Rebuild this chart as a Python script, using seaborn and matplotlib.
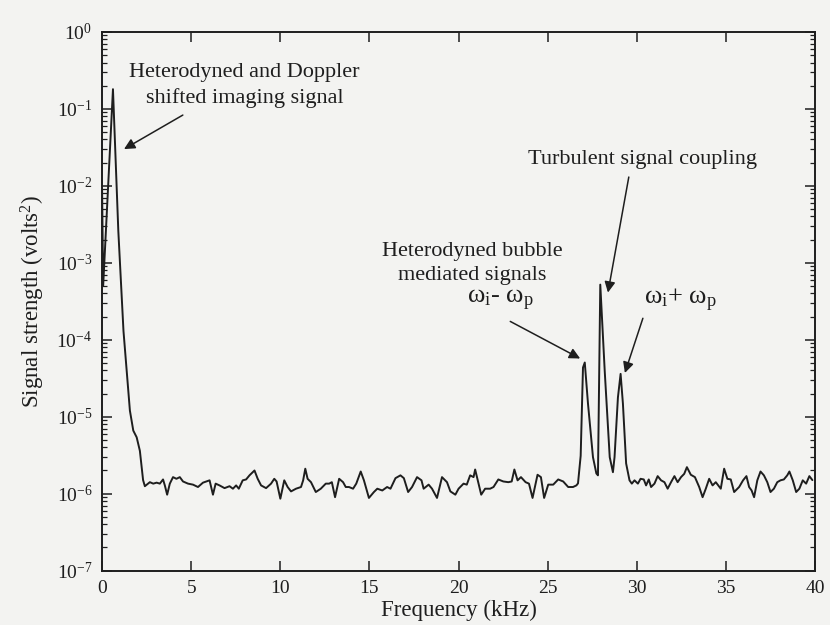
import matplotlib
matplotlib.use('Agg')
import matplotlib.pyplot as plt
import matplotlib.ticker as mticker
import seaborn as sns

# spectrum (kHz, volts^2)
peak_freq = [0.0, 0.06, 0.61, 0.91, 1.20, 1.47, 1.56, 1.75, 1.94, 2.12, 2.30]
peak_sig = [9.0e-3, 5.0e-4, 0.18, 2.6e-3, 1.3e-4, 2.2e-5, 1.2e-5, 6.6e-6, 5.4e-6, 3.6e-6, 1.5e-6]

floor_a_freq = [2.40, 2.68, 2.87, 3.06, 3.24, 3.42, 3.52, 3.65, 3.80, 3.98, 4.17, 4.36, 4.54, 4.82,
                5.10, 5.38, 5.66, 6.03, 6.22, 6.37, 6.59, 6.87, 7.15, 7.34, 7.52, 7.67, 7.89, 8.08,
                8.27, 8.55, 8.73, 8.92, 9.20, 9.48, 9.66, 9.79, 10.00, 10.22, 10.41, 10.60, 10.88,
                11.16, 11.28, 11.40, 11.53, 11.72, 11.99, 12.27, 12.55, 12.74, 12.89, 13.07, 13.30,
                13.52, 13.67, 13.85, 14.08, 14.26, 14.51, 14.69, 14.97, 15.25, 15.44, 15.72, 15.99,
                16.18, 16.46, 16.74, 16.93, 17.17, 17.39, 17.67, 17.92, 18.04, 18.32, 18.51, 18.79,
                19.07, 19.35, 19.54, 19.82, 20.00, 20.28, 20.46, 20.65, 20.84, 20.93, 21.12, 21.27,
                21.49, 21.77, 21.96, 22.23, 22.51, 22.79, 22.98, 23.13, 23.31, 23.50, 23.76, 23.95,
                24.15, 24.43, 24.62, 24.80, 25.03, 25.31, 25.59, 25.87, 26.15, 26.42, 26.61]
# in units of 1e-6 volts^2
floor_a_e6 = [1.25, 1.41, 1.35, 1.39, 1.35, 1.53, 1.28, 0.97, 1.35, 1.64, 1.56, 1.64, 1.44, 1.35,
              1.31, 1.22, 1.39, 1.49, 0.97, 1.35, 1.28, 1.18, 1.25, 1.16, 1.28, 1.16, 1.49, 1.53,
              1.73, 2.00, 1.56, 1.28, 1.18, 1.35, 1.56, 1.44, 0.86, 1.49, 1.22, 1.07, 1.16,
              1.22, 1.49, 2.11, 1.56, 1.41, 1.05, 1.16, 1.35, 1.35, 1.41, 0.90, 1.56,
              1.41, 1.22, 1.22, 1.16, 1.35, 1.94, 1.49, 0.88, 1.05, 1.16, 1.10, 1.22,
              1.16, 1.59, 1.73, 1.59, 1.05, 1.22, 1.64, 1.49, 1.16, 1.31, 1.16, 0.88,
              1.64, 1.41, 1.07, 0.97, 1.16, 1.35, 1.31, 1.73, 1.64, 2.06, 1.35, 0.97,
              1.16, 1.16, 1.22, 1.53, 1.44, 1.41, 1.44, 2.06, 1.49, 1.64, 1.41, 1.35,
              0.88, 1.76, 1.64, 0.88, 1.31, 1.31, 1.53, 1.44, 1.22, 1.22, 1.28]

triplet_freq = [26.70, 26.85, 26.98, 27.08, 27.26, 27.54, 27.73, 27.82, 27.95, 28.20, 28.48,
                28.66, 28.75, 28.94, 29.09, 29.22, 29.40, 29.59]
triplet_sig = [1.36e-6, 3.1e-6, 4.35e-5, 5.06e-5, 1.48e-5, 2.98e-6, 1.83e-6, 1.73e-6, 5.2e-4,
               3.9e-5, 2.98e-6, 1.9e-6, 2.98e-6, 1.78e-5, 3.6e-5, 1.48e-5, 2.47e-6, 1.49e-6]

floor_b_freq = [29.72, 29.87, 30.06, 30.21, 30.39, 30.52, 30.67, 30.80, 30.99, 31.17, 31.36, 31.55,
                31.73, 31.92, 32.11, 32.29, 32.48, 32.66, 32.81, 33.03, 33.26, 33.50, 33.69, 33.87,
                34.06, 34.25, 34.43, 34.71, 34.90, 35.08, 35.27, 35.46, 35.74, 35.96, 36.15, 36.30,
                36.44, 36.58, 36.76, 36.94, 37.13, 37.32, 37.50, 37.69, 37.88, 38.06, 38.25, 38.44,
                38.56, 38.75, 38.94, 39.12, 39.31, 39.50, 39.68, 39.85]
floor_b_e6 = [1.35, 1.49, 1.35, 1.56, 1.53, 1.28, 1.53, 1.22, 1.35, 1.69, 1.49, 1.41,
              1.16, 1.41, 1.69, 1.41, 1.64, 1.81, 2.21, 1.76, 1.64, 1.22, 0.90, 1.16,
              1.56, 1.28, 1.41, 1.16, 2.11, 1.56, 1.53, 1.05, 1.22, 1.49, 1.69, 1.22,
              1.10, 0.90, 1.49, 1.94, 1.73, 1.41, 1.05, 1.16, 1.41, 1.49, 1.53, 1.73,
              1.94, 1.49, 1.05, 1.16, 1.49, 1.35, 1.69, 1.50]

freq = peak_freq + floor_a_freq + triplet_freq + floor_b_freq
signal = (peak_sig + [v * 1e-6 for v in floor_a_e6] + triplet_sig
          + [v * 1e-6 for v in floor_b_e6])

x_ticks = [0, 5, 10, 15, 20, 25, 30, 35, 40]
y_ticks = [1e-7, 1e-6, 1e-5, 1e-4, 1e-3, 1e-2, 1e-1, 1]

sns.set_theme(style='ticks')
plt.rcParams['font.family'] = ['Liberation Serif', 'DejaVu Serif']
plt.rcParams['mathtext.fontset'] = 'stix'
plt.rcParams['mathtext.default'] = 'regular'

paper = '#f3f3f1'
ink = '#1e1e1e'
fig = plt.figure(figsize=(8.3, 6.25), dpi=100, facecolor=paper)
ax = fig.add_axes([0.123, 0.087, 0.859, 0.862])
ax.set_facecolor(paper)

sns.lineplot(x=freq, y=signal, ax=ax, color=ink, linewidth=1.4, sort=False)

ax.set_yscale('log')
ax.set_xlim(0, 40)
ax.set_ylim(1e-7, 1)
ax.set_xticks(x_ticks)
ax.set_yticks(y_ticks)
ax.yaxis.set_minor_locator(mticker.LogLocator(base=10, subs=range(2, 10), numticks=20))
ax.yaxis.set_minor_formatter(mticker.NullFormatter())

ax.tick_params(axis='both', which='both', direction='in', top=True, right=True,
               colors=ink, labelcolor=ink)
ax.tick_params(axis='both', which='major', length=7, width=1.1, labelsize=14, pad=7)
ax.tick_params(axis='y', which='minor', length=3.5, width=0.9)
for s in ax.spines.values():
    s.set_linewidth(1.4)
    s.set_color(ink)

ax.set_xlabel('Frequency (kHz)', fontsize=16.5, color=ink, labelpad=2)
ax.set_ylabel('Signal strength (volts$^2$)', fontsize=16.5, color=ink, labelpad=7)

txt = dict(fontsize=16, color=ink, ha='center', va='center', linespacing=1.4)
arrow = dict(arrowstyle='-|>', color=ink, lw=1.1, mutation_scale=16, shrinkA=0, shrinkB=0)

ax.text(7.99, 0.2, 'Heterodyned and Doppler\nshifted imaging signal', **txt)
ax.annotate('', xy=(1.23, 3.0e-2), xytext=(4.53, 8.3e-2), arrowprops=arrow)

ax.text(30.34, 2.2e-2, 'Turbulent signal coupling', **txt)
ax.annotate('', xy=(28.38, 4.1e-4), xytext=(29.55, 1.3e-2), arrowprops=arrow)

ax.text(20.78, 9.8e-4, 'Heterodyned bubble\nmediated signals', **txt)
ax.text(22.35, 3.2e-4, r'$\omega_i$- $\omega_p$', fontsize=19, color=ink,
        ha='center', va='center')
ax.annotate('', xy=(26.82, 5.7e-5), xytext=(22.9, 1.73e-4), arrowprops=arrow)

ax.text(32.46, 3.2e-4, r'$\omega_i$+ $\omega_p$', fontsize=19, color=ink,
        ha='center', va='center')
ax.annotate('', xy=(29.33, 3.7e-5), xytext=(30.34, 1.9e-4), arrowprops=arrow)

fig.savefig('out.png', dpi=100, facecolor=paper)
